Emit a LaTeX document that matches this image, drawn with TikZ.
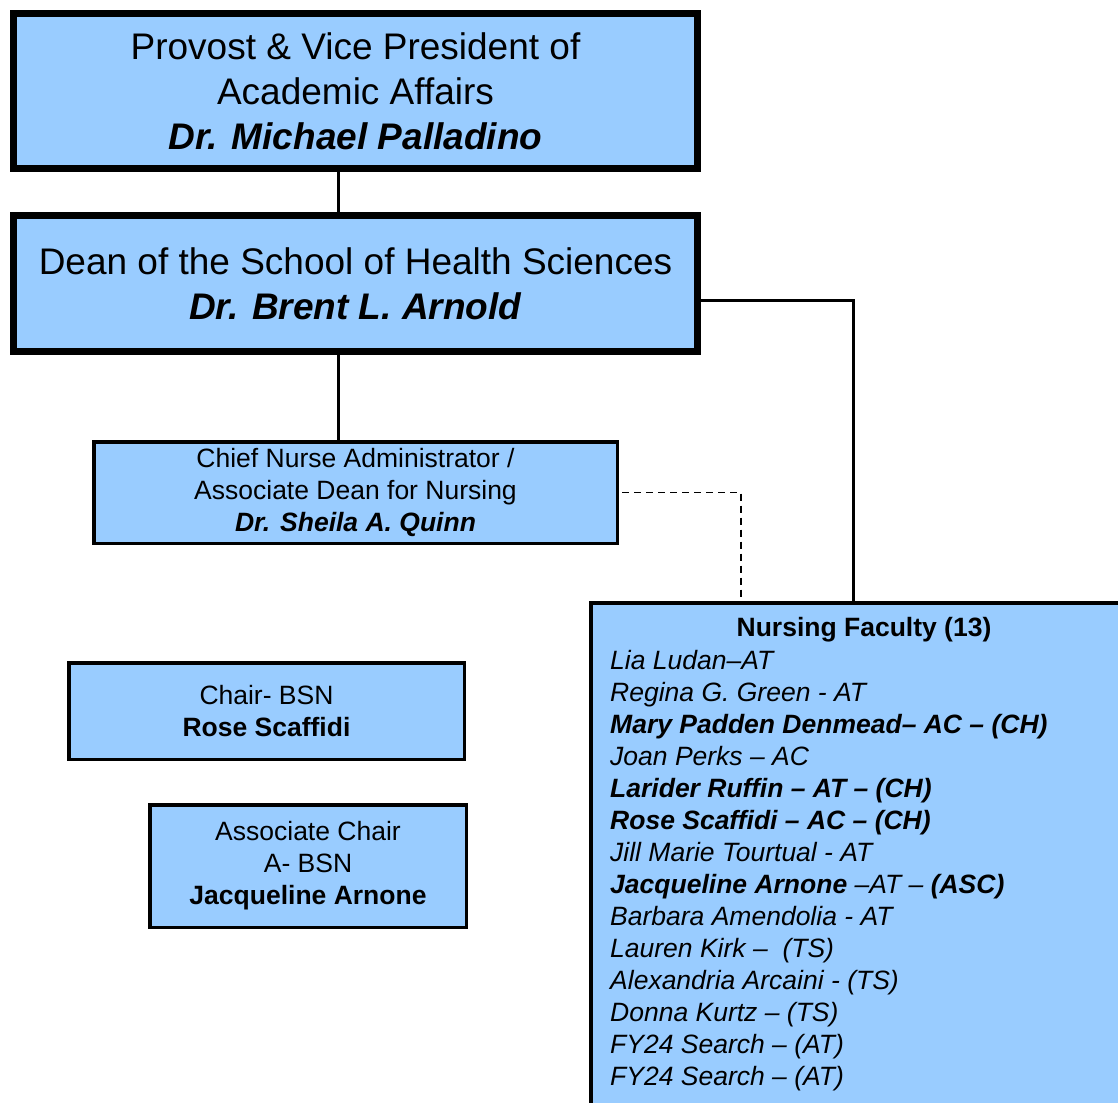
\documentclass[tikz,border=0pt]{standalone}
\usepackage{fontspec}
\setmainfont{Liberation Sans}
\definecolor{boxblue}{RGB}{153,204,255}
\begin{document}
\begin{tikzpicture}[x=1pt,y=-1pt,
  bigbox/.style={draw=black, fill=boxblue, line width=7pt, align=center, inner sep=0pt, font=\fontsize{37}{45}\selectfont},
  smallbox/.style={draw=black, fill=boxblue, line width=3.5pt, align=center, inner sep=0pt, font=\fontsize{26.5}{32}\selectfont},
  listtext/.style={align=left, inner sep=0pt, font=\fontsize{26.5}{32}\selectfont\itshape},
  conn/.style={line width=3pt},
  dconn/.style={line width=1.5pt, dash pattern=on 7pt off 5pt}]
\useasboundingbox (0,0) rectangle (1118,1102);

\node[bigbox, minimum width=684pt, minimum height=155pt] (provost) at (355.5,91)
  {Provost \& Vice President of\\Academic Affairs\\\textbf{\textit{Dr. Michael Palladino}}};
\node[bigbox, minimum width=684pt, minimum height=136pt] (dean) at (355.5,283.5)
  {Dean of the School of Health Sciences\\\textbf{\textit{Dr. Brent L. Arnold}}};
\node[smallbox, minimum width=523.5pt, minimum height=101.5pt] (chief) at (355.5,492.5)
  {\raisebox{0pt}[\height][\depth]{}Chief Nurse Administrator /\\Associate Dean for Nursing\\\textbf{\textit{Dr. Sheila A. Quinn}}};
\node[smallbox, minimum width=395.5pt, minimum height=96.5pt] (chair) at (266.5,711)
  {Chair- BSN\\\textbf{Rose Scaffidi}};
\node[smallbox, minimum width=316.5pt, minimum height=122.5pt] (assoc) at (308,866)
  {Associate Chair\\A- BSN\\\textbf{Jacqueline Arnone}};
\node[draw=black, fill=boxblue, line width=4pt, inner sep=0pt, minimum width=546pt, minimum height=515pt] (fac) at (863.5,860.5) {};
\node[inner sep=0pt, font=\fontsize{26.5}{32}\selectfont\bfseries] (factitle) at (864,630) {Nursing Faculty (13)};
\node[listtext, anchor=west] (faclist) at (610,871) {%
Lia Ludan–AT\\
Regina G. Green - AT\\
\textbf{Mary Padden Denmead– AC – (CH)}\\
Joan Perks – AC\\
\textbf{Larider Ruffin – AT – (CH)}\\
\textbf{Rose Scaffidi – AC – (CH)}\\
Jill Marie Tourtual - AT\\
\textbf{Jacqueline Arnone} –AT – \textbf{(ASC)}\\
Barbara Amendolia - AT\\
Lauren Kirk –\ \ (TS)\\
Alexandria Arcaini - (TS)\\
Donna Kurtz – (TS)\\
FY24 Search – (AT)\\
FY24 Search – (AT)};

\draw[conn] ([xshift=-17.5pt]provost.south) -- ([xshift=-17.5pt]dean.north);
\draw[conn] ([xshift=-17.5pt]dean.south) -- ([xshift=-17.5pt]chief.north);
\draw[conn] ([yshift=-16.5pt]dean.east) -| ([xshift=-10.5pt]fac.north);
\draw[dconn] ([xshift=3pt]chief.east) -| ([xshift=-122.5pt]fac.north);
\end{tikzpicture}
\end{document}
